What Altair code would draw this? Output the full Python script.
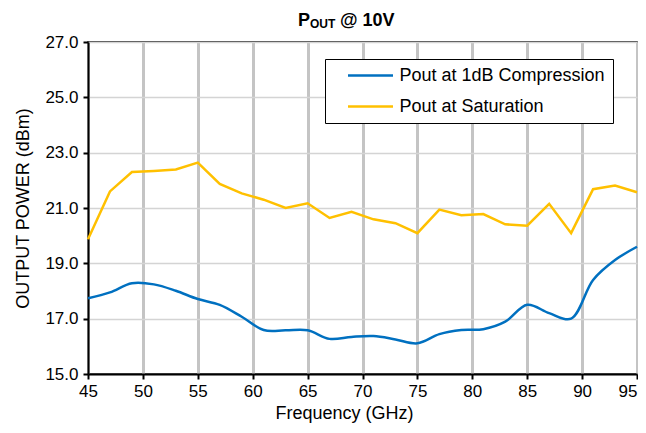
import altair as alt
import pandas as pd

freq = [45, 47, 49, 51, 53, 55, 57, 59, 61, 63, 65, 67, 69, 71, 73, 75, 77, 79, 81, 83, 85, 87, 89, 91, 93, 95]
p1db = [17.74, 17.95, 18.28, 18.24, 18.01, 17.71, 17.50, 17.07, 16.59, 16.58, 16.58, 16.27, 16.34,
        16.37, 16.25, 16.11, 16.44, 16.59, 16.62, 16.89, 17.50, 17.20, 17.00, 18.40, 19.12, 19.60]
psat = [19.87, 21.60, 22.30, 22.34, 22.39, 22.64, 21.87, 21.53, 21.30, 21.00, 21.17, 20.64, 20.86,
        20.59, 20.45, 20.09, 20.94, 20.74, 20.78, 20.41, 20.36, 21.15, 20.09, 21.68, 21.81, 21.57]
series = ["Pout at 1dB Compression", "Pout at Saturation"]
colors = ["#0070C0", "#FFC000"]
x_ticks = [45, 50, 55, 60, 65, 70, 75, 80, 85, 90, 95]
y_ticks = [15, 17, 19, 21, 23, 25, 27]

df = pd.concat([
    pd.DataFrame({"f": freq, "p": p1db, "s": series[0]}),
    pd.DataFrame({"f": freq, "p": psat, "s": series[1]}),
])

FONT = "Arial, Liberation Sans"

x = alt.X("f:Q", scale=alt.Scale(domain=[45, 95], nice=False),
          axis=alt.Axis(values=x_ticks, title="Frequency (GHz)", titleX=256, titlePadding=5,
                        gridColor="#c4c4c4", gridWidth=3, labelPadding=4,
                        labelAlign=alt.condition("datum.value == 95", alt.value("right"), alt.value("center"))))
y = alt.Y("p:Q", scale=alt.Scale(domain=[15, 27], nice=False),
          axis=alt.Axis(values=y_ticks, format=".1f", title="OUTPUT POWER (dBm)",
                        gridColor="#d4d4d4", gridWidth=1.5, titlePadding=12, labelPadding=5))
color = alt.Color("s:N", scale=alt.Scale(domain=series, range=colors),
                  legend=alt.Legend(title=None, orient="none", legendX=237, legendY=17,
                                    symbolType="M-3,0H3", symbolSize=225, symbolStrokeWidth=2.5,
                                    symbolOffset=29, labelOffset=20, rowPadding=13, padding=7.5,
                                    labelFontSize=18, labelFont=FONT, labelColor="black", labelLimit=0,
                                    strokeColor="black", fillColor="white"))

comp = alt.Chart(df[df.s == series[0]]).mark_line(strokeWidth=2.5, interpolate="catmull-rom").encode(
    x=x, y=y, color=color)
sat = alt.Chart(df[df.s == series[1]]).mark_line(strokeWidth=2.5).encode(x=x, y=y, color=color)

title_df = pd.DataFrame({"t": ["x"]})
t1 = alt.Chart(title_df).mark_text(text="P", font=FONT, fontSize=18, fontWeight="bold",
                                   align="left", baseline="alphabetic", color="black").encode(
    x=alt.value(210), y=alt.value(-16))
t2 = alt.Chart(title_df).mark_text(text="OUT", font=FONT, fontSize=12, fontWeight="bold",
                                   align="left", baseline="alphabetic", color="black").encode(
    x=alt.value(222), y=alt.value(-14))
t3 = alt.Chart(title_df).mark_text(text="@ 10V", font=FONT, fontSize=18, fontWeight="bold",
                                   align="left", baseline="alphabetic", color="black").encode(
    x=alt.value(252), y=alt.value(-16))

chart = alt.layer(comp, sat, t1, t2, t3).properties(
    width=549, height=332,
    padding={"left": 80, "top": 34, "right": 1, "bottom": 50},
    autosize=alt.AutoSizeParams(type="none"),
).configure_view(stroke="black", strokeWidth=1.5).configure_axis(
    domainColor="black", domainWidth=2, tickColor="black", tickWidth=2, tickSize=5,
    labelFont=FONT, labelFontSize=17, labelColor="black",
    titleFont=FONT, titleFontSize=18, titleFontWeight="normal", titleColor="black",
)

chart.save("out.html", embed_options={"renderer": "svg", "actions": False})
